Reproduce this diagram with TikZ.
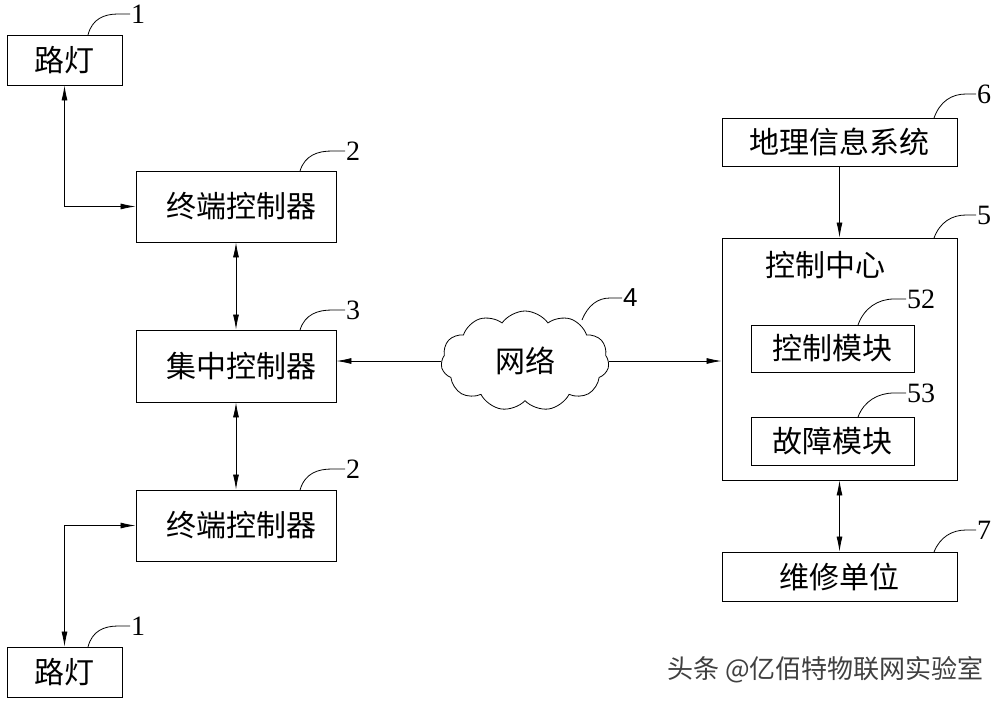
\documentclass[tikz,border=0pt]{standalone}
\usepackage{fontspec}
\setmainfont{Liberation Serif}
\newfontfamily\cjk{Noto Sans CJK SC}
\newfontfamily\numsans{Liberation Sans}
\usetikzlibrary{arrows.meta,shapes.symbols}
\begin{document}
\begin{tikzpicture}[x=1pt,y=-1pt,
  box/.style={draw,line width=0.9pt,inner sep=0pt,font=\cjk\fontsize{30}{32}\selectfont},
  lbl/.style={font=\fontsize{28}{30}\selectfont,anchor=west,inner sep=1pt},
  lead/.style={line width=0.8pt},
  conn/.style={line width=0.8pt,{Latex[length=15pt,width=6pt]}-{Latex[length=15pt,width=6pt]}},
  conn1/.style={line width=0.8pt,-{Latex[length=15pt,width=6pt]}},
  tag/.style={inner sep=0pt,font=\cjk\fontsize{30}{32}\selectfont}]
\useasboundingbox (0,0) rectangle (1000,704);
% left column
\node[box,minimum width=115pt,minimum height=50pt] (L1) at (64.5,60) {路灯};
\node[box,minimum width=200pt,minimum height=71pt] (T1) at (236,206.5) {\hspace{10pt}终端控制器};
\node[box,minimum width=200pt,minimum height=72pt] (C) at (236,366) {\hspace{10pt}集中控制器};
\node[box,minimum width=200pt,minimum height=71pt] (T2) at (236,525.5) {\hspace{10pt}终端控制器};
\node[box,minimum width=115pt,minimum height=50pt] (L2) at (64.5,672) {路灯};
% cloud
\node[cloud,draw,line width=0.8pt,cloud puffs=11,cloud puff arc=110,aspect=1.8,minimum width=168pt,minimum height=100pt,inner sep=0pt,font=\cjk\fontsize{30}{32}\selectfont] (net) at (525,361) {网络};
% right column
\node[box,minimum width=235pt,minimum height=48pt] (G) at (839.5,142) {地理信息系统};
\node[box,minimum width=235pt,minimum height=242pt] (CC) at (839.5,359) {};
\node[tag] (CCt) at (825,265) {控制中心};
\node[box,minimum width=163pt,minimum height=47pt] (CM) at (832.5,348.5) {控制模块};
\node[box,minimum width=163pt,minimum height=48pt] (FM) at (832.5,441) {故障模块};
\node[box,minimum width=235pt,minimum height=49pt] (M) at (839.5,576.5) {维修单位};
% connectors
\draw[conn] (L1.south) |- (T1.west);
\draw[conn] (T1.south) -- (C.north);
\draw[conn] (C.south) -- (T2.north);
\draw[conn] (T2.west) -| (L2.north);
\draw[conn1] (net.west) -- (net.west -| C.east);
\draw[conn1] (net.east) -- (net.east -| CC.west);
\draw[conn1] (G.south) -- (G.south |- CC.north);
\draw[conn] (M.north |- CC.south) -- (M.north);
% leader lines and labels
\coordinate (a1) at (130,14);
\draw[lead] (88,35) .. controls (92,19) and (104,14) .. (118,14) -- (a1);
\node[lbl] (n1) at (a1) {1};
\coordinate (a2) at (345,151);
\draw[lead] (300,171) .. controls (305,155) and (318,151) .. (332,151) -- (a2);
\node[lbl] (n2) at (a2) {2};
\coordinate (a3) at (345,310);
\draw[lead] (300,330) .. controls (305,314) and (318,310) .. (332,310) -- (a3);
\node[lbl] (n3) at (a3) {3};
\coordinate (a2b) at (345,469);
\draw[lead] (300,490) .. controls (305,473) and (318,469) .. (332,469) -- (a2b);
\node[lbl] (n2b) at (a2b) {2};
\coordinate (a1b) at (130,626);
\draw[lead] (88,647) .. controls (92,631) and (104,626) .. (118,626) -- (a1b);
\node[lbl] (n1b) at (a1b) {1};
\coordinate (a4) at (622,298);
\draw[lead] (582,320) .. controls (588,305) and (598,298) .. (610,298) -- (a4);
\node[lbl,font=\numsans\fontsize{26}{28}\selectfont] (n4) at (a4) {4};
\coordinate (a6) at (976,94);
\draw[lead] (934,118) .. controls (940,101) and (952,94) .. (966,94) -- (a6);
\node[lbl] (n6) at (a6) {6};
\coordinate (a5) at (976,215);
\draw[lead] (934,238) .. controls (940,222) and (952,215) .. (966,215) -- (a5);
\node[lbl] (n5) at (a5) {5};
\coordinate (a52) at (906,299);
\draw[lead] (858,325) .. controls (864,308) and (878,299) .. (894,299) -- (a52);
\node[lbl] (n52) at (a52) {52};
\coordinate (a53) at (906,393);
\draw[lead] (858,417) .. controls (864,401) and (878,393) .. (894,393) -- (a53);
\node[lbl] (n53) at (a53) {53};
\coordinate (a7) at (976,530);
\draw[lead] (934,552) .. controls (940,537) and (952,530) .. (966,530) -- (a7);
\node[lbl] (n7) at (a7) {7};
% watermark
\node[inner sep=0pt,anchor=west,text=black!75,font=\cjk\fontsize{26}{28}\selectfont] (wm) at (667,670) {头条 @亿佰特物联网实验室};
\end{tikzpicture}
\end{document}
